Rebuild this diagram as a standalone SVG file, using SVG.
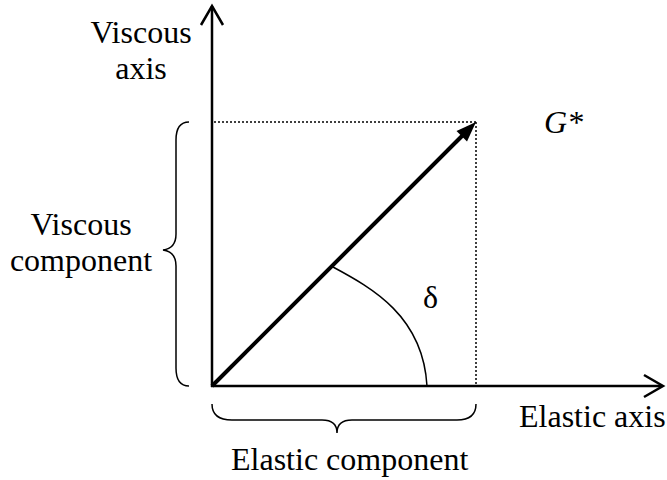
<svg xmlns="http://www.w3.org/2000/svg" width="667" height="480" viewBox="0 0 667 480">
<style>
text{font-family:"Liberation Serif","Times New Roman",serif;font-size:32px;fill:#000}
.ax{stroke:#000;stroke-width:2.5;fill:none}
.dot{stroke:#000;stroke-width:1.5;stroke-dasharray:2 2;fill:none}
.br{stroke:#000;stroke-width:1.5;fill:none}
</style>
<rect width="667" height="480" fill="#fff"/>
<g id="connectors">
<line class="ax" x1="212" y1="387" x2="212" y2="6"/>
<polyline class="ax" points="201,25 212,6 223,25"/>
<line class="ax" x1="211" y1="386" x2="662" y2="386"/>
<polyline class="ax" points="644,375 663,386 644,397"/>
<line class="dot" x1="214" y1="122" x2="476" y2="122"/>
<line class="dot" x1="476" y1="122" x2="476" y2="386"/>
<line x1="212" y1="386" x2="466" y2="132" stroke="#000" stroke-width="4"/>
<polygon points="476,122 456.5,131 467,141.5" fill="#000"/>
<path class="br" d="M333,267 C372,288 423,316 427,386"/>
</g>
<g id="viscous-brace"><path class="br" d="M189,122 C180,122 176,128 176,140 L176,234 C176,244 171,249 163,250 C171,251 176,256 176,266 L176,368 C176,380 180,386 189,386"/></g>
<g id="elastic-brace"><path class="br" d="M212,404 C212,414 218,420 232,420 L322,420 C332,420 337,425 337,433 C337,425 342,420 352,420 L457,420 C470,420 476,414 476,404"/></g>
<g id="viscous-axis-label"><text x="141" y="43" text-anchor="middle">Viscous</text><text x="141" y="79" text-anchor="middle">axis</text></g>
<g id="viscous-component-label"><text x="81" y="235" text-anchor="middle">Viscous</text><text x="81" y="271" text-anchor="middle">component</text></g>
<g id="g-star"><text x="544" y="133" font-style="italic">G*</text></g>
<g id="delta"><text x="423" y="308">δ</text></g>
<g id="elastic-axis-label"><text x="519" y="427">Elastic axis</text></g>
<g id="elastic-component-label"><text x="231" y="470">Elastic component</text></g>
</svg>
